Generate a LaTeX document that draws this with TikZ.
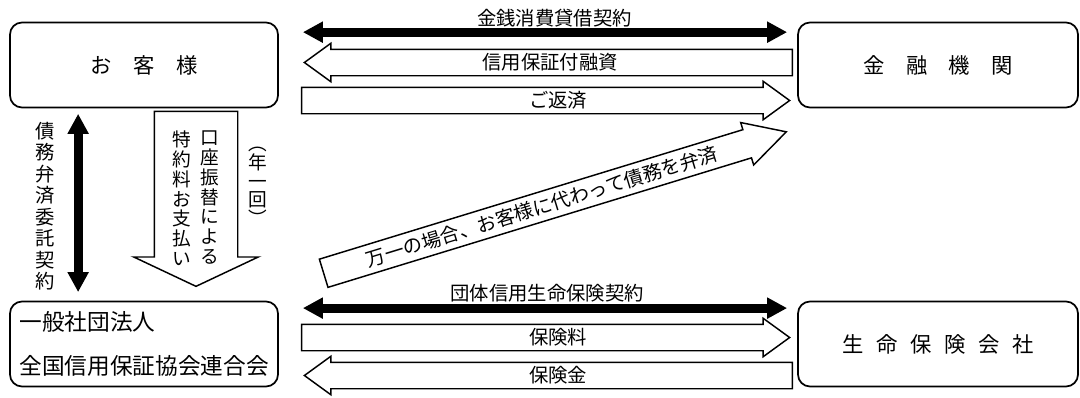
\documentclass[tikz,border=0pt]{standalone}
\usepackage{fontspec}
\setmainfont{Noto Sans CJK JP}
\usetikzlibrary{shapes.arrows,arrows.meta,positioning}

\begin{document}
\begin{tikzpicture}[
  x=0.75pt, y=-0.75pt,
  party/.style={draw, line width=1.3pt, rounded corners=9pt,
                minimum height=63.75pt, font=\fontsize{16}{19}\selectfont},
  blk/.style={line width=6.75pt,
              {Triangle[length=15pt,width=15pt]}-{Triangle[length=15pt,width=15pt]}},
  harrow/.style={single arrow, draw, line width=1.1pt,
                 inner xsep=0pt, inner ysep=9.375pt,
                 minimum height=366pt, minimum width=28.5pt,
                 single arrow head extend=4.5pt, single arrow tip angle=72},
  lbl/.style={font=\fontsize{14.5}{17}\selectfont, inner sep=0pt},
  vtext/.style={align=center, inner sep=0pt, anchor=north}
]
\useasboundingbox (0,0) rectangle (1080,397);

% Parties
\node[party, minimum width=201pt] (kyaku)  at (144,65)  {お\hspace{1em}客\hspace{1em}様};
\node[party, minimum width=210pt] (kinyu)  at (938,65)  {金\hspace{1em}融\hspace{1em}機\hspace{1em}関};
\node[party, minimum width=201pt, align=left, font=\fontsize{17}{33}\selectfont]
      (rengo)  at (144,344) {一般社団法人\\全国信用保証協会連合会};
\node[party, minimum width=210pt] (seimei) at (938,344)
      {生\hspace{0.6em}命\hspace{0.6em}保\hspace{0.6em}険\hspace{0.6em}会\hspace{0.6em}社};

% Contracts (black double arrows)
\draw[blk] ([xshift=18pt,yshift=-7.9pt]kyaku.north east) -- ([xshift=-7.5pt,yshift=-7.9pt]kinyu.north west);
\draw[blk] ([xshift=18pt,yshift=-5.6pt]rengo.north east) -- ([xshift=-7.5pt,yshift=-5.6pt]seimei.north west);
\draw[blk] ([xshift=51.75pt,yshift=-4.1pt]kyaku.south west) -- ([xshift=51.75pt,yshift=6.4pt]rengo.north west);

\node[lbl] (kinsen) at (554.5,18) {金銭消費貸借契約};
\node[lbl] (dantai) at (547,293) {団体信用生命保険契約};
\node[vtext, font=\fontsize{14.5}{16.1}\selectfont] (itaku) at (45,122)
      {債\\務\\弁\\済\\委\\託\\契\\約};

% Money flows (hollow arrows)
\node[harrow, shape border rotate=180] (yushi)    at (557.5,62.5)  {};
\node[harrow]                          (hensai)   at (536.5,100.5) {};
\node[harrow]                          (hokenryo) at (536.5,337.5) {};
\node[harrow, shape border rotate=180] (hokenkin) at (557.5,375.5) {};

\node[lbl] at (550,62.5)  {信用保証付融資};
\node[lbl] at (558,100.5) {ご返済};
\node[lbl] at (558,337.5) {保険料};
\node[lbl] at (558,375.5) {保険金};

% Subrogation
\node[single arrow, draw, line width=1.1pt, rotate=17,
      inner xsep=1pt, inner ysep=5pt, text height=11pt, text depth=0pt,
      minimum height=362.8pt, minimum width=32.25pt,
      single arrow head extend=5.6pt, single arrow tip angle=57,
      font=\fontsize{14.5}{17}\selectfont] (daiben) at (542,206.5)
      {万一の場合、お客様に代わって債務を弁済};

% Fee payment
\node[single arrow, draw, line width=1.1pt, shape border rotate=270, inner sep=30.75pt,
      minimum height=131.25pt, minimum width=92.25pt,
      single arrow head extend=15.4pt, single arrow tip angle=129.5] (furikae) at (196,189) {};
\node[vtext, font=\fontsize{14}{14.8}\selectfont] (koza)     at (210,131) {口\\座\\振\\替\\に\\よ\\る};
\node[vtext, font=\fontsize{14}{14.8}\selectfont] (tokuyaku) at (182,131) {特\\約\\料\\お\\支\\払\\い};
\node[vtext, font=\fontsize{14}{14}\selectfont]   (nenikkai) at (258,147) {︵\\年\\一\\回\\︶};
\end{tikzpicture}
\end{document}
